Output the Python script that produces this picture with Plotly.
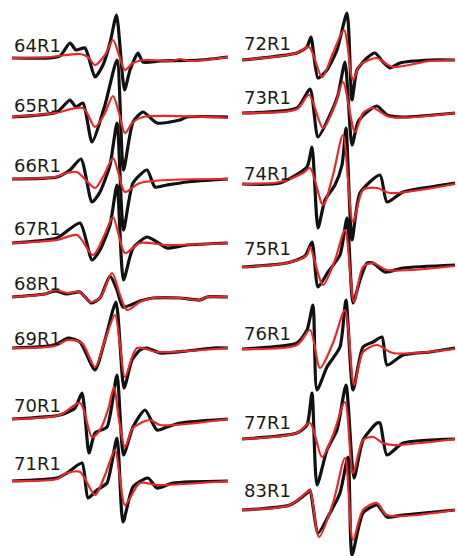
import plotly.graph_objects as go

# ---- sample names (two columns) ----
left_names = ["64R1", "65R1", "66R1", "67R1", "68R1", "69R1", "70R1", "71R1"]
right_names = ["72R1", "73R1", "74R1", "75R1", "76R1", "77R1", "83R1"]

# ---- experimental (black) spectra: field offset and signal amplitude ----
exp_field = {
    "64R1": [0, 38, 48, 58, 64, 73, 83, 91, 98, 104.5, 112.5, 118, 126, 131, 148, 188, 216],
    "65R1": [0, 45, 58, 64, 71, 80, 93, 105, 111.5, 121, 131, 145, 168, 175, 216],
    "66R1": [0, 45, 58, 69, 80, 88, 98, 105, 111.5, 121, 135, 143, 155, 175, 216],
    "67R1": [0, 45, 68, 80, 88, 98, 105, 111.5, 121, 135, 145, 155, 175, 216],
    "68R1": [0, 33, 43, 55, 68, 79, 88, 98, 105, 111, 128, 141, 168, 188, 195, 216],
    "69R1": [0, 43, 56, 68, 83, 93, 104, 112, 120, 128, 135, 148, 175, 201, 216],
    "70R1": [0, 48, 63, 70, 77, 83, 95, 105, 111.5, 121, 133, 145, 155, 168, 216],
    "71R1": [0, 45, 55, 70, 76, 85, 95, 105, 111, 121, 136, 145, 161, 216],
    "72R1": [0, 55, 65, 69, 76, 85, 95, 105, 110, 115, 125, 133, 141, 148, 158, 188, 213],
    "73R1": [0, 55, 68, 76, 88, 96, 103, 110, 116, 125, 135, 145, 161, 213],
    "74R1": [0, 38, 65, 70, 76, 83, 93, 100, 104, 110, 118, 138, 145, 161, 188, 213],
    "75R1": [0, 45, 63, 70, 76, 86, 98, 105, 111, 118, 125, 131, 143, 161, 213],
    "76R1": [0, 55, 65, 71, 75, 85, 98, 104, 111, 121, 131, 140, 145, 161, 188, 213],
    "77R1": [0, 55, 65, 70, 75, 85, 95, 104, 112, 121, 135, 138, 145, 161, 213],
    "83R1": [0, 48, 65, 68, 76, 88, 98, 106, 110, 121, 135, 145, 161, 213],
}
exp_signal = {
    "64R1": [0, 0, 2, 15, 8, 10, -19, -7, 15, 43, -32, -12, 5, -4, -3, -2, 1],
    "65R1": [0, 5, 17, 10, 14, -25, 12, 57, -53, -5, 5, -6, -3, 0, 0],
    "66R1": [0, 2, 9, 20, -23, -13, 14, 56, -51, -4, 9, -8, -6, -3, 0],
    "67R1": [0, 5, 20, -17, -7, 18, 58, -37, -5, 6, 1, -5, -2, 0],
    "68R1": [0, 3, 6, 3, 5, -6, -1, 21, 7, -10, -4, -1, -1, -3, 0, 0],
    "69R1": [0, 3, 10, 6, -22, 8, 46, -40, -12, -2, 0, -5, -3, 0, 0],
    "70R1": [0, 4, 11, 26, -34, -14, -8, 44, -36, -8, 9, -11, -8, -4, 0],
    "71R1": [0, 3, 8, 18, -17, -9, -2, 43, -41, -6, 3, -7, -2, 0],
    "72R1": [0, 7, 13, 23, -18, -10, 10, 47, -40, -10, 2, 7, -2, -8, -3, 0, 0],
    "73R1": [0, 5, 24, -24, -2, 18, 51, -32, -9, 1, 7, -2, -4, 0],
    "74R1": [0, 1, 17, 37, -44, -16, -1, 19, 56, -56, -9, 9, -18, -8, -3, 1],
    "75R1": [0, 4, 11, 25, -20, -5, 12, 49, -36, -13, 4, 4, -5, -1, 2],
    "76R1": [0, 6, 19, 44, -41, -18, 2, 49, -41, 2, 7, 12, -16, -6, -3, 1],
    "77R1": [0, 6, 14, 46, -46, -11, 9, 54, -39, -1, 16, 16, -16, -4, 0],
    "83R1": [0, 5, 17, 20, -23, -3, 17, 53, -45, -3, 5, -7, -5, 0],
}

# ---- simulated (red) spectra ----
sim_field = {
    "64R1": [0, 38, 68, 76, 83, 93, 101, 107, 113, 121, 133, 158, 168, 178, 216],
    "65R1": [0, 43, 71, 83, 92, 101, 107, 113, 121, 131, 216],
    "66R1": [0, 43, 55, 65, 83, 92, 101, 107, 113, 128, 216],
    "67R1": [0, 45, 65, 81, 92, 101, 107, 113, 128, 155, 216],
    "68R1": [0, 33, 43, 55, 68, 78, 88, 100, 108, 115, 128, 141, 168, 188, 195, 216],
    "69R1": [0, 43, 56, 70, 83, 93, 103, 108, 113, 125, 145, 216],
    "70R1": [0, 48, 68, 80, 88, 96, 102, 107, 113, 121, 138, 148, 216],
    "71R1": [0, 45, 55, 68, 83, 93, 103, 108, 113, 128, 145, 216],
    "72R1": [0, 55, 67, 80, 91, 102, 111, 118, 135, 143, 151, 188, 213],
    "73R1": [0, 55, 67, 81, 93, 101, 113, 121, 131, 148, 213],
    "74R1": [0, 38, 61, 68, 81, 91, 101, 111, 121, 135, 148, 213],
    "75R1": [0, 45, 65, 68, 81, 93, 103, 112, 121, 131, 145, 213],
    "76R1": [0, 55, 68, 78, 91, 103, 112, 121, 135, 151, 213],
    "77R1": [0, 55, 68, 80, 91, 103, 111, 121, 131, 141, 151, 213],
    "83R1": [0, 48, 65, 68, 77, 91, 103, 111, 121, 135, 145, 213],
}
sim_signal = {
    "64R1": [0, 1, 4, 1, -7, 3, 18, 3, -12, -5, -2, -3, -1, -3, 1],
    "65R1": [0, 4, 9, -10, 2, 21, 4, -16, -5, 0, -1],
    "66R1": [0, 2, 6, 7, -9, 4, 21, 4, -13, -4, 0],
    "67R1": [0, 3, 8, -12, 7, 26, 7, -10, 0, -2, 0],
    "68R1": [0, 3, 7, 4, 5, -5, -1, 24, 2, -13, -5, -1, -1, -3, 0, 0],
    "69R1": [0, 2, 8, 5, -19, 8, 33, 3, -29, 0, -4, 0],
    "70R1": [0, 4, 16, -18, -11, 9, 32, -1, -28, -9, -1, -6, 0],
    "71R1": [0, 2, 8, 9, -14, 6, 31, 3, -24, -2, -4, 0],
    "72R1": [0, 7, 13, -17, 7, 30, -20, -5, 2, -3, -7, -1, 0],
    "73R1": [0, 4, 18, -15, 8, 31, -19, 0, 5, -4, 0],
    "74R1": [0, 2, 11, 16, -21, 9, 49, -38, -6, -4, -9, 0],
    "75R1": [0, 4, 12, 20, -18, 7, 37, -35, 0, 4, -3, 1],
    "76R1": [0, 4, 19, -19, 6, 39, -36, -3, 4, -4, 0],
    "77R1": [0, 6, 16, -18, 4, 37, -34, -1, 2, -4, -6, 0],
    "83R1": [0, 5, 18, 20, -27, 7, 52, -30, 0, 7, -5, 0],
}

# ---- stacking offsets (baseline level of each spectrum) ----
left_offsets = [58, 117, 179, 243, 297, 348, 419, 481]
right_offsets = [60, 113, 184, 267, 349, 439, 510]
left_label_levels = [45, 105, 165, 228, 283, 338, 405, 463]
right_label_levels = [43, 97, 173, 248, 333, 422, 490]

col_origin = {"left": 12, "right": 242}

fig = go.Figure()

def add_spectrum(name, origin, base):
    xe = [origin + f for f in exp_field[name]]
    ye = [-base + s for s in exp_signal[name]]
    xs = [origin + f for f in sim_field[name]]
    ys = [-base + s for s in sim_signal[name]]
    fig.add_trace(go.Scatter(x=xe, y=ye, mode="lines",
                             line=dict(color="#111111", width=3.2, shape="spline", smoothing=0.6),
                             hoverinfo="skip", showlegend=False))
    fig.add_trace(go.Scatter(x=xs, y=ys, mode="lines",
                             line=dict(color="#e8282b", width=2.2, shape="spline", smoothing=0.8),
                             hoverinfo="skip", showlegend=False))

for name, base in zip(left_names, left_offsets):
    add_spectrum(name, col_origin["left"], base)
for name, base in zip(right_names, right_offsets):
    add_spectrum(name, col_origin["right"], base)

annotations = []
for name, lv in zip(left_names, left_label_levels):
    annotations.append(dict(x=col_origin["left"], y=-lv, text=name, showarrow=False,
                            xanchor="left", yanchor="middle",
                            font=dict(family="DejaVu Sans", size=18, color="#1a1a1a")))
for name, lv in zip(right_names, right_label_levels):
    annotations.append(dict(x=col_origin["right"], y=-lv, text=name, showarrow=False,
                            xanchor="left", yanchor="middle",
                            font=dict(family="DejaVu Sans", size=18, color="#1a1a1a")))

fig.update_layout(
    width=457, height=556,
    margin=dict(l=0, r=0, t=0, b=0),
    paper_bgcolor="white", plot_bgcolor="white",
    xaxis=dict(range=[0, 457], visible=False, fixedrange=True),
    yaxis=dict(range=[-556, 0], visible=False, fixedrange=True),
    annotations=annotations,
    showlegend=False,
)

fig.write_html("out.html", config={"displayModeBar": False})
